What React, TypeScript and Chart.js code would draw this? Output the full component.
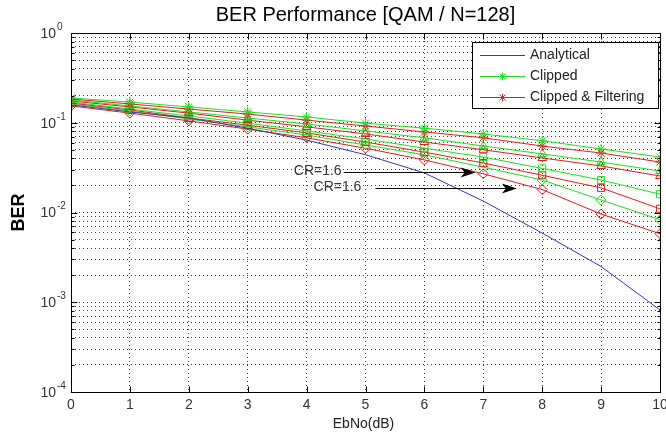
import React, { useEffect, useRef } from "react";
import { Chart, registerables } from "chart.js";

Chart.register(...registerables);

// ---- data ----
const ebno = [0, 1, 2, 3, 4, 5, 6, 7, 8, 9, 10];
const analytical = [0.158, 0.132, 0.113, 0.087, 0.064, 0.044, 0.0276, 0.0134, 0.0059, 0.0025, 0.00082];
const clippedA = [0.189, 0.17, 0.15, 0.132, 0.116, 0.099, 0.087, 0.075, 0.063, 0.051, 0.0415];
const filteredA = [0.184, 0.162, 0.142, 0.125, 0.107, 0.092, 0.079, 0.068, 0.055, 0.046, 0.0365];
const clippedB = [0.179, 0.154, 0.132, 0.113, 0.097, 0.081, 0.068, 0.055, 0.045, 0.0365, 0.029];
const filteredB = [0.175, 0.15, 0.128, 0.107, 0.09, 0.075, 0.061, 0.05, 0.0405, 0.033, 0.0255];
const clippedC = [0.17, 0.142, 0.119, 0.099, 0.081, 0.066, 0.052, 0.0415, 0.031, 0.023, 0.016];
const filteredC = [0.166, 0.139, 0.113, 0.094, 0.077, 0.061, 0.047, 0.0356, 0.026, 0.0188, 0.011];
const clippedD = [0.162, 0.135, 0.11, 0.09, 0.073, 0.0565, 0.044, 0.032, 0.023, 0.0138, 0.0083];
const filteredD = [0.154, 0.128, 0.105, 0.085, 0.068, 0.052, 0.0385, 0.027, 0.018, 0.0096, 0.0058];

const xTickValues = [0, 1, 2, 3, 4, 5, 6, 7, 8, 9, 10];
const yDecades = [-4, -3, -2, -1, 0];
const yMantissas = [1, 2, 3, 4, 5, 6, 7, 8, 9];

const legendLabels = ["Analytical", "Clipped", "Clipped & Filtering"];

const annoLabels = ["CR=1.6", "CR=1.6"];
const annoTextX = [4.595, 4.93];
const annoTailX = [4.63, 5.17];
const annoTipX = [6.87, 7.57];
const annoY = [0.0286, 0.0187];

// ---- styles ----
const BLUE = "#3636b8";
const GREEN = "#22dd22";
const RED = "#d82020";
const FONT = '"Liberation Sans", Arial, Helvetica, sans-serif';

const pts = (arr: number[]) => arr.map((v, i) => ({ x: ebno[i], y: v }));

const series = (label: string, data: number[], color: string, style: any) => ({
  label,
  data: pts(data),
  borderColor: color,
  borderWidth: 1,
  pointStyle: style,
  pointRadius: 5,
  pointBorderColor: color,
  pointBorderWidth: 1,
  pointBackgroundColor: "rgba(0,0,0,0)",
  fill: false,
  tension: 0,
});

const customPlugin = {
  id: "matlabDecor",
  afterDraw(chart: any) {
    const { ctx, chartArea: a, scales } = chart;
    const xs = scales.x;
    const ys = scales.y;
    const L = Math.round(a.left) + 0.5;
    const R = Math.round(a.right) + 0.5;
    const T = Math.round(a.top) + 0.5;
    const B = Math.round(a.bottom) + 0.5;
    ctx.save();

    // frame
    ctx.strokeStyle = "#000";
    ctx.lineWidth = 1;
    ctx.setLineDash([]);
    ctx.strokeRect(L, T, R - L, B - T);

    // x ticks (inward, bottom & top)
    ctx.beginPath();
    xTickValues.forEach((v) => {
      const px = Math.round(xs.getPixelForValue(v)) + 0.5;
      ctx.moveTo(px, B);
      ctx.lineTo(px, B - 6);
      ctx.moveTo(px, T);
      ctx.lineTo(px, T + 6);
    });
    // y ticks major & minor
    yDecades.forEach((e) => {
      yMantissas.forEach((m) => {
        const v = m * Math.pow(10, e);
        if (v > 1 + 1e-9) return;
        const py = Math.round(ys.getPixelForValue(v)) + 0.5;
        const len = m === 1 ? 6 : 3;
        ctx.moveTo(L, py);
        ctx.lineTo(L + len, py);
        ctx.moveTo(R, py);
        ctx.lineTo(R - len, py);
      });
    });
    ctx.stroke();

    // x tick labels
    ctx.fillStyle = "#333";
    ctx.font = `14px ${FONT}`;
    ctx.textAlign = "center";
    ctx.textBaseline = "middle";
    xTickValues.forEach((v) => {
      ctx.fillText(String(v), xs.getPixelForValue(v), a.bottom + 13);
    });

    // y tick labels 10^e
    yDecades.forEach((e) => {
      const py = ys.getPixelForValue(Math.pow(10, e));
      ctx.font = `14px ${FONT}`;
      ctx.textAlign = "right";
      ctx.textBaseline = "middle";
      ctx.fillText("10", a.left - 15, py + 1);
      ctx.font = `10px ${FONT}`;
      ctx.textAlign = "left";
      ctx.fillText(String(e), a.left - 14, py - 6);
    });

    // title
    ctx.fillStyle = "#000";
    ctx.font = `20px ${FONT}`;
    ctx.textAlign = "center";
    ctx.textBaseline = "middle";
    ctx.fillText("BER Performance [QAM / N=128]", (a.left + a.right) / 2, 15);

    // axis titles
    ctx.fillStyle = "#222";
    ctx.font = `14px ${FONT}`;
    ctx.fillText("EbNo(dB)", (a.left + a.right) / 2 - 2, 424);
    ctx.save();
    ctx.translate(19, (a.top + a.bottom) / 2);
    ctx.rotate(-Math.PI / 2);
    ctx.fillStyle = "#000";
    ctx.font = `bold 18px ${FONT}`;
    ctx.fillText("BER", 0, 0);
    ctx.restore();

    // annotations
    annoLabels.forEach((lab, i) => {
      const py = Math.round(ys.getPixelForValue(annoY[i])) + 0.5;
      const tx = xs.getPixelForValue(annoTextX[i]);
      const x0 = xs.getPixelForValue(annoTailX[i]);
      const x1 = xs.getPixelForValue(annoTipX[i]);
      ctx.fillStyle = "#333";
      ctx.font = `14px ${FONT}`;
      ctx.textAlign = "right";
      ctx.textBaseline = "middle";
      ctx.fillText(lab, tx, py - 1);
      ctx.strokeStyle = "#000";
      ctx.lineWidth = 1;
      ctx.beginPath();
      ctx.moveTo(x0, py);
      ctx.lineTo(x1 - 4, py);
      ctx.stroke();
      ctx.fillStyle = "#000";
      ctx.beginPath();
      ctx.moveTo(x1, py);
      ctx.lineTo(x1 - 15, py - 5);
      ctx.lineTo(x1 - 11, py);
      ctx.lineTo(x1 - 15, py + 5);
      ctx.closePath();
      ctx.fill();
    });

    // legend
    const lx = 472.5, ly = 42.5, lw = 186, lh = 66;
    ctx.fillStyle = "#fff";
    ctx.fillRect(lx, ly, lw, lh);
    ctx.strokeStyle = "#000";
    ctx.lineWidth = 1;
    ctx.strokeRect(lx, ly, lw, lh);
    const rowY = [55, 76, 97];
    const rowColor = [BLUE, GREEN, RED];
    legendLabels.forEach((lab, i) => {
      const yy = rowY[i] + 0.5;
      ctx.strokeStyle = rowColor[i];
      ctx.beginPath();
      ctx.moveTo(480, yy);
      ctx.lineTo(525, yy);
      ctx.stroke();
      if (i > 0) {
        ctx.beginPath();
        const cx = 502.5, r = 4;
        ctx.moveTo(cx - r, yy); ctx.lineTo(cx + r, yy);
        ctx.moveTo(cx, yy - r); ctx.lineTo(cx, yy + r);
        ctx.moveTo(cx - 3, yy - 3); ctx.lineTo(cx + 3, yy + 3);
        ctx.moveTo(cx - 3, yy + 3); ctx.lineTo(cx + 3, yy - 3);
        ctx.stroke();
      }
      ctx.fillStyle = "#222";
      ctx.font = `14px ${FONT}`;
      ctx.textAlign = "left";
      ctx.textBaseline = "middle";
      ctx.fillText(lab, 530, rowY[i]);
    });

    ctx.restore();
  },
};

export default function App() {
  const ref = useRef<HTMLCanvasElement | null>(null);

  useEffect(() => {
    if (!ref.current) return;
    const yGrid: number[] = [];
    yDecades.forEach((e) => {
      yMantissas.forEach((m) => {
        const v = m * Math.pow(10, e);
        if (v <= 1 + 1e-9) yGrid.push(v);
      });
    });

    const chart = new Chart(ref.current, {
      type: "line",
      data: {
        datasets: [
          { label: "Analytical", data: pts(analytical), borderColor: BLUE, borderWidth: 1, pointRadius: 0, fill: false, tension: 0 } as any,
          series("Clipped", clippedA, GREEN, "star"),
          series("Clipped & Filtering", filteredA, RED, "star"),
          series("Clipped", clippedB, GREEN, "triangle"),
          series("Clipped & Filtering", filteredB, RED, "triangle"),
          series("Clipped", clippedC, GREEN, "rect"),
          series("Clipped & Filtering", filteredC, RED, "rect"),
          series("Clipped", clippedD, GREEN, "rectRot"),
          series("Clipped & Filtering", filteredD, RED, "rectRot"),
        ],
      },
      options: {
        responsive: false,
        animation: false,
        layout: { padding: { left: 71, top: 33, right: 3, bottom: 44 } },
        plugins: { legend: { display: false }, tooltip: { enabled: false }, title: { display: false } },
        scales: {
          x: {
            type: "linear",
            min: 0,
            max: 10,
            ticks: { display: false, stepSize: 1 },
            grid: { color: "rgba(0,0,0,0.75)", lineWidth: 1, drawTicks: false },
            border: { display: false, dash: [1, 3] },
            afterFit: (s: any) => { s.height = 0; },
          },
          y: {
            type: "logarithmic",
            min: 0.0001,
            max: 1,
            afterBuildTicks: (s: any) => { s.ticks = yGrid.map((v) => ({ value: v })); },
            ticks: { display: false },
            grid: { color: "rgba(0,0,0,0.75)", lineWidth: 1, drawTicks: false },
            border: { display: false, dash: [1, 3] },
            afterFit: (s: any) => { s.width = 0; },
          },
        },
      } as any,
      plugins: [customPlugin],
    });
    return () => chart.destroy();
  }, []);

  return (
    <div style={{ position: "absolute", left: 0, top: 0, width: 666, height: 436, background: "#fff" }}>
      <canvas ref={ref} width={666} height={436} style={{ display: "block", width: 666, height: 436 }} />
    </div>
  );
}
